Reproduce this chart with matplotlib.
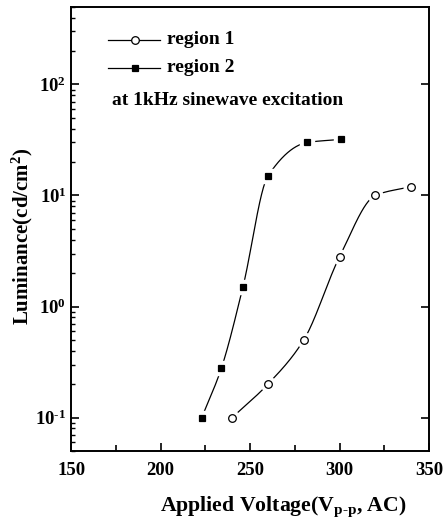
import matplotlib
matplotlib.use('Agg')
import matplotlib.pyplot as plt
from matplotlib.ticker import FuncFormatter
import numpy as np

# data
v1 = [240, 260, 280, 300, 320, 340]
lum1 = [0.1, 0.2, 0.5, 2.8, 10, 12]
v2 = [223, 234, 246, 260, 282, 301]
lum2 = [0.1, 0.28, 1.5, 15, 30, 32]
labels = ['region 1', 'region 2']


def pchip(x, y, xs):
    # monotone cubic through the points (used only to draw the smooth line)
    x = np.asarray(x, float); y = np.asarray(y, float)
    h = np.diff(x); d = np.diff(y) / h
    m = np.zeros_like(y)
    for i in range(1, len(x) - 1):
        if d[i - 1] * d[i] > 0:
            w1 = 2 * h[i] + h[i - 1]; w2 = h[i] + 2 * h[i - 1]
            m[i] = (w1 + w2) / (w1 / d[i - 1] + w2 / d[i])
    m[0] = d[0]; m[-1] = d[-1]
    idx = np.clip(np.searchsorted(x, xs) - 1, 0, len(x) - 2)
    t = (xs - x[idx]) / h[idx]
    h00 = 2*t**3 - 3*t**2 + 1; h10 = t**3 - 2*t**2 + t
    h01 = -2*t**3 + 3*t**2; h11 = t**3 - t**2
    return h00*y[idx] + h10*h[idx]*m[idx] + h01*y[idx+1] + h11*h[idx]*m[idx+1]


plt.rcParams['font.family'] = 'Liberation Serif'
plt.rcParams['font.weight'] = 'bold'
plt.rcParams['axes.unicode_minus'] = False
plt.rcParams['mathtext.fontset'] = 'custom'
plt.rcParams['mathtext.rm'] = 'Liberation Serif:bold'
plt.rcParams['mathtext.it'] = 'Liberation Serif:bold'
plt.rcParams['mathtext.bf'] = 'Liberation Serif:bold'

fig = plt.figure(figsize=(4.45, 5.25), dpi=100)
ax = fig.add_axes([0.160, 0.141, 0.804, 0.846])

styles = [('o', 'white', 5.5), ('s', 'black', 5)]
for (vx, ly), (mk, fc, ms) in zip([(v1, lum1), (v2, lum2)], styles):
    xs = np.linspace(vx[0], vx[-1], 300)
    ys = 10 ** pchip(vx, np.log10(ly), xs)
    ax.plot(xs, ys, color='black', lw=0.9, zorder=2)
    # white halo gives the gap between line and marker
    ax.plot(vx, ly, ls='none', marker=mk, ms=ms + 5, mfc='white', mec='white', zorder=3)
    ax.plot(vx, ly, ls='none', marker=mk, ms=ms, mfc=fc, mec='black', mew=0.9, zorder=4)

# legend drawn by hand in axes coordinates
for (mk, fc, ms), lab, yy in zip(styles, labels, [0.926, 0.863]):
    ax.plot([0.103, 0.249], [yy, yy], color='black', lw=0.9, transform=ax.transAxes)
    ax.plot([0.178], [yy], marker=mk, ms=ms, mfc=fc, mec='black', mew=0.9, transform=ax.transAxes)
    ax.text(0.268, yy, lab, transform=ax.transAxes, fontsize=14, fontweight='bold',
            ha='left', va='center')
ax.text(0.115, 0.790, 'at 1kHz sinewave excitation', transform=ax.transAxes,
        fontsize=14, fontweight='bold', ha='left', va='center')

ax.set_yscale('log')
ax.set_xlim(150, 350)
ax.set_ylim(0.05, 500)
ax.set_xticks([150, 200, 250, 300, 350])
ax.set_xticks([175, 225, 275, 325], minor=True)
ax.set_yticks([0.1, 1, 10, 100])


def pow_label(val, pos):
    e = int(round(np.log10(val)))
    s = str(e).replace('-', '\u2010')
    return '$\\mathregular{10^{' + s + '}}$'


ax.yaxis.set_major_formatter(FuncFormatter(pow_label))
ax.tick_params(axis='both', which='both', direction='in', labelsize=13.5)
ax.tick_params(axis='x', which='major', length=6, width=1.2, pad=8)
ax.tick_params(axis='x', which='minor', length=4, width=1.2)
ax.tick_params(axis='y', which='major', length=6, width=1.2, right=True)
ax.tick_params(axis='y', which='minor', length=3, width=1.0)
for s in ax.spines.values():
    s.set_linewidth(1.4)

ax.set_xlabel('Applied Voltage(V$_{\\mathregular{p\u2010p}}$, AC)', fontsize=15.7, fontweight='bold',
              va='top')
ax.xaxis.set_label_coords(0.594, -0.097)
ax.set_ylabel('Luminance(cd/cm$^{\\mathregular{2}}$)', fontsize=15, fontweight='bold')
ax.yaxis.set_label_coords(-0.10, 0.484)

fig.savefig('out.png', dpi=100)
